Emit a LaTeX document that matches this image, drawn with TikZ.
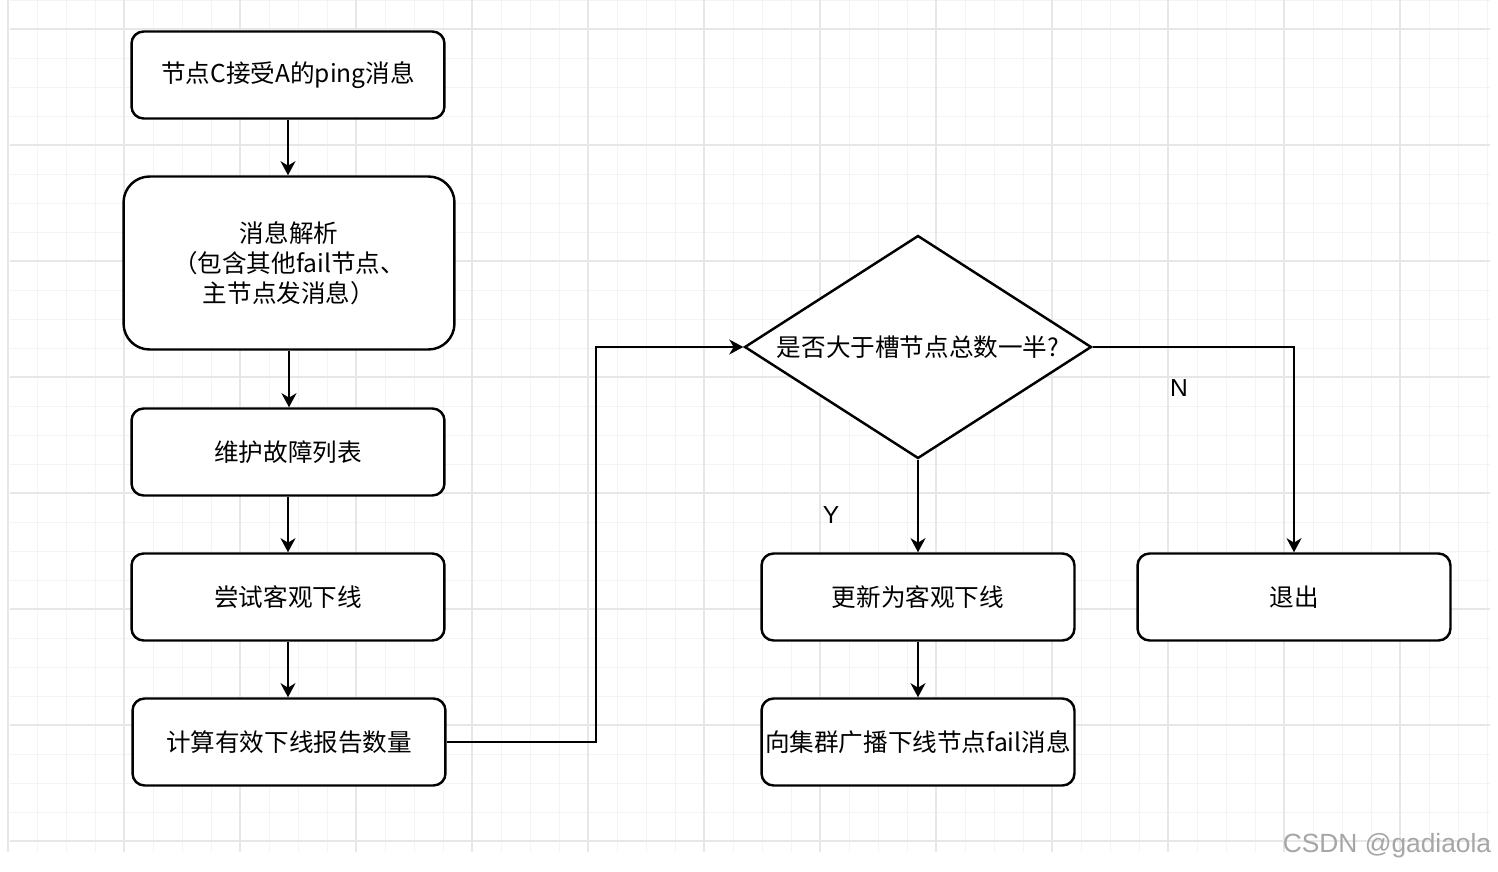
\documentclass[tikz,border=0pt]{standalone}
\usepackage{fontspec}
\setmainfont{Noto Sans CJK SC}
\newfontfamily\latinfont{Liberation Sans}
\usepackage{tikz}
\usetikzlibrary{positioning, shapes.geometric, arrows.meta}
\definecolor{majorgrid}{HTML}{E7E7E7}
\definecolor{minorgrid}{HTML}{F4F4F4}
\tikzset{step box/.style = {rectangle, draw, line width=1.4pt, rounded corners=0.24cm, inner xsep=1pt,
                            minimum width=6.26cm, minimum height=1.74cm, fill=white,
                            font=\fontsize{14}{17}\selectfont, align=center},
         big box/.style  = {step box, rounded corners=0.52cm, minimum width=6.62cm, minimum height=3.46cm},
         decision/.style = {diamond, draw, line width=1.4pt, fill=white, inner sep=0pt, aspect=1.556,
                            minimum width=6.94cm, minimum height=4.46cm, font=\fontsize{14}{17}\selectfont},
         flow/.style     = {line width=1.1pt, -{Stealth[length=8pt, width=8.5pt, inset=2.5pt]}},
         yn/.style       = {font=\latinfont\fontsize{14}{17}\selectfont}}

\begin{document}
\begin{tikzpicture}[x=0.02cm, y=-0.02cm]
                    % background and grid
                    \fill[white] (0,0) rectangle (1498,872);
                    \useasboundingbox (0,0) rectangle (1498,872);
                    \foreach \x in {8,37,...,1490}
                        \draw[minorgrid, line width=0.5pt] (\x,0) -- (\x,852);
                    \foreach \y in {0,29,...,852}
                        \draw[minorgrid, line width=0.5pt] (10,\y) -- (1490,\y);
                    \foreach \x in {8,124,...,1490}
                        \draw[majorgrid, line width=0.7pt] (\x,0) -- (\x,852);
                    \foreach \y in {29,145,...,852}
                        \draw[majorgrid, line width=0.7pt] (10,\y) -- (1490,\y);

                    % left column
                    \node [step box] (recv)   at (288,  75) {节点C接受A的ping消息};
                    \node [big box]  (parse)  at (289, 263) {消息解析\\（包含其他fail节点、\\主节点发消息）};
                    \node [step box] (keep)   at (288, 452) {维护故障列表};
                    \node [step box] (try)    at (288, 597) {尝试客观下线};
                    \node [step box] (count)  at (289, 742) {计算有效下线报告数量};

                    % decision and right side
                    \node [decision] (half)   at (918, 347) {是否大于槽节点总数一半?};
                    \node [step box] (update) at (918, 597) {更新为客观下线};
                    \node [step box] (quit)   at (1294, 597) {退出};
                    \node [step box] (bcast)  at (918, 742) {向集群广播下线节点fail消息};

                    \draw [flow] (recv)  -- (recv |- parse.north);
                    \draw [flow] (parse) -- (parse |- keep.north);
                    \draw [flow] (keep)  -- (try);
                    \draw [flow] (try)   -- (try |- count.north);
                    \draw [flow] (count.east) -- ++(149,0) |- (half.west);
                    \draw [flow] (half.east) -| (quit.north);
                    \draw [flow] (half.south) -- (update.north);
                    \draw [flow] (update) -- (bcast);

                    \node [yn] (no)  at (1179, 388) {N};
                    \node [yn] (yes) at (831, 515)  {Y};

                    \node [font=\latinfont\fontsize{15}{18}\selectfont, text=black!35] (mark) at (1387, 846) {CSDN @gadiaola};
                \end{tikzpicture}
\end{document}
